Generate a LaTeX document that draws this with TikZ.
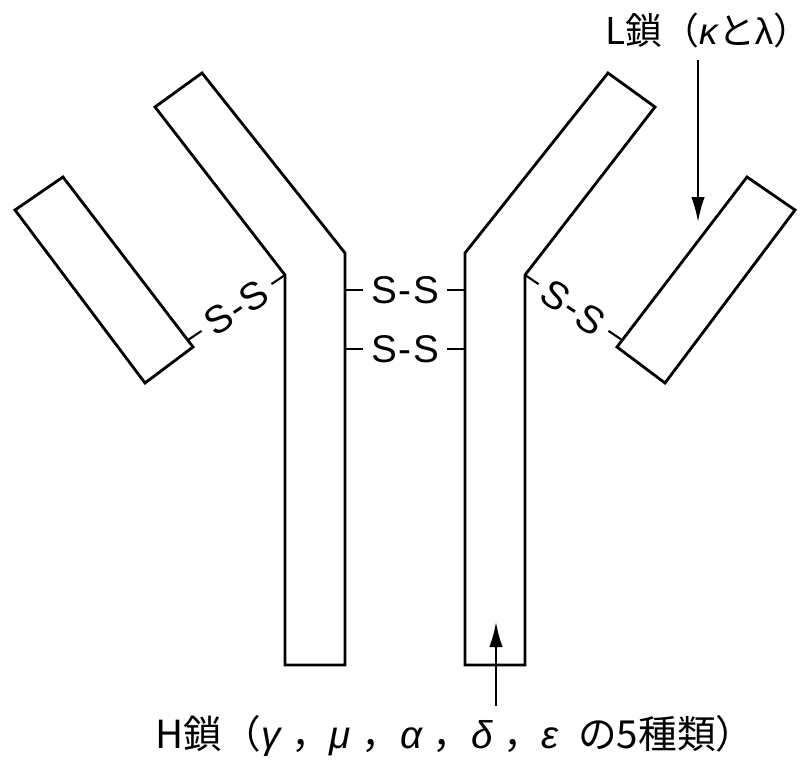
\documentclass[tikz,border=0pt]{standalone}
\usepackage{fontspec}
\setmainfont{Liberation Sans}
\newfontfamily\jp{Noto Sans CJK JP}
\newfontfamily\lat{Liberation Sans}
\newcommand{\gk}[1]{{\lat\itshape #1}}
\newcommand{\gsep}{\hspace{6pt}，}
\usetikzlibrary{arrows.meta}
\begin{document}
\begin{tikzpicture}[x=0.02cm,y=-0.02cm,
  chain/.style={draw=black, line width=1.6pt, line join=miter},
  bond/.style={draw=black, line width=1.2pt},
  bondlabel/.style={fill=white, inner xsep=4.5pt, inner ysep=1pt, font=\lat\fontsize{22}{26}\selectfont},
  toplbl/.style={font=\jp\fontsize{21}{25}\selectfont, inner sep=0pt},
  botlbl/.style={font=\jp\fontsize{22}{26}\selectfont, inner sep=0pt},
  pointer/.style={draw=black, line width=1.2pt, -{Latex[length=0.5cm,width=0.27cm]}}]
\useasboundingbox (0,0) rectangle (801,760);
% heavy chains
\coordinate (LHib) at (285,275);
\coordinate (LHob) at (345,253);
\coordinate (RHob) at (465,253);
\coordinate (RHib) at (525,275);
\draw[chain] (285,665) -- (LHib) -- (155,107) -- (202,73) -- (LHob) -- (345,665) -- cycle;
\draw[chain] (465,665) -- (RHob) -- (608,73) -- (655,107) -- (RHib) -- (525,665) -- cycle;
% light chains
\draw[chain] (15,210) -- (63,177) -- (193,347) -- (145,383) -- cycle;
\draw[chain] (795,210) -- (747,177) -- (617,347) -- (665,383) -- cycle;
% disulfide bonds
\coordinate (LLc) at (188,340);
\coordinate (RLc) at (622,340);
\coordinate (HL1) at (345,290);
\coordinate (HR1) at (465,290);
\coordinate (HL2) at (345,349);
\coordinate (HR2) at (465,349);
\draw[bond] (LHib) -- node[bondlabel, sloped] {S\hspace{1pt}-\hspace{1pt}S} (LLc);
\draw[bond] (RHib) -- node[bondlabel, sloped] {S\hspace{1pt}-\hspace{1pt}S} (RLc);
\draw[bond] (HL1) -- node[bondlabel] {S\hspace{1pt}-\hspace{1pt}S} (HR1);
\draw[bond] (HL2) -- node[bondlabel] {S\hspace{1pt}-\hspace{1pt}S} (HR2);
% labels and pointers
\node[toplbl] (Llab) at (708,30) {L鎖（\gk{κ}と{\lat λ}）};
\coordinate (Ltip) at (698,222);
\draw[pointer, shorten <=7pt] (Llab.south -| Ltip) -- (Ltip);
\node[botlbl] (Hlab) at (455,736) {H鎖（\gk{γ}\gsep\gk{μ}\gsep\gk{α}\gsep\gk{δ}\gsep\gk{ε}\hspace{11pt}の5種類）};
\coordinate (Htip) at (496,622);
\draw[pointer, shorten <=5pt] (Hlab.north -| Htip) -- (Htip);
\end{tikzpicture}
\end{document}
